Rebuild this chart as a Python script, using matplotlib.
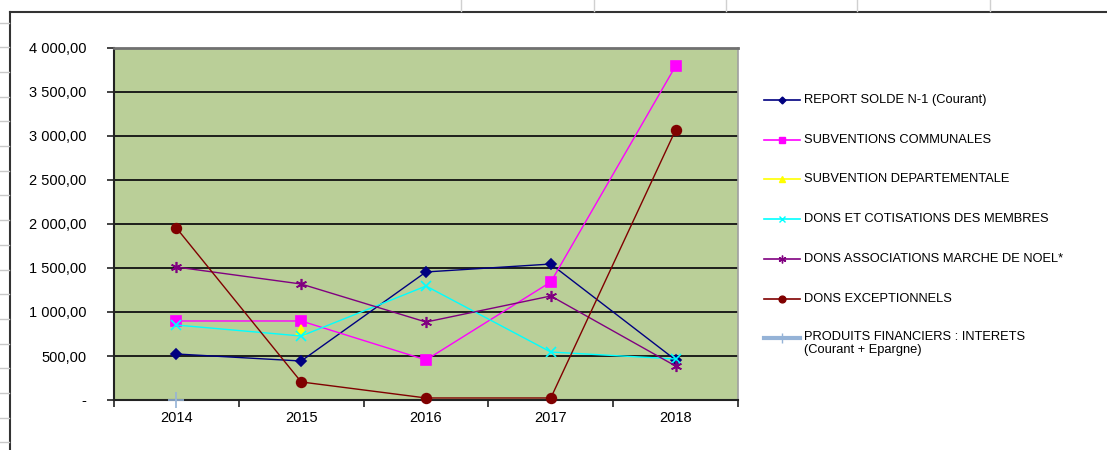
import numpy as np
import matplotlib
matplotlib.use("Agg")
import matplotlib.pyplot as plt
from matplotlib.lines import Line2D

plt.rcParams['font.family'] = ['Liberation Sans', 'DejaVu Sans']

# data
years = ['2014', '2015', '2016', '2017', '2018']
report_solde = [523, 443, 1455, 1545, 455]
subv_communales = [898, 898, 455, 1341, 3795]
subv_departementale = [np.nan, 790, np.nan, np.nan, np.nan]
dons_cotisations = [852, 727, 1295, 545, 466]
dons_noel = [1511, 1318, 886, 1182, 386]
dons_exceptionnels = [1955, 205, 23, 23, 3068]
produits_financiers = [5, np.nan, np.nan, np.nan, np.nan]

y_ticks = [0, 500, 1000, 1500, 2000, 2500, 3000, 3500, 4000]
y_labels = ['-', '500,00', '1 000,00', '1 500,00', '2 000,00',
            '2 500,00', '3 000,00', '3 500,00', '4 000,00']

series = [
    ('REPORT SOLDE N-1 (Courant)', report_solde, '#000080', 'D', 5, 1.0),
    ('SUBVENTIONS COMMUNALES', subv_communales, '#FF00FF', 's', 7, 1.0),
    ('SUBVENTION DEPARTEMENTALE', subv_departementale, '#FFFF00', '^', 7, 1.0),
    ('DONS ET COTISATIONS DES MEMBRES', dons_cotisations, '#00FFFF', 'x', 7, 1.0),
    ('DONS ASSOCIATIONS MARCHE DE NOEL*', dons_noel, '#800080', (6, 2, 0), 8, 1.0),
    ('DONS EXCEPTIONNELS', dons_exceptionnels, '#800000', 'o', 7, 1.0),
    ('PRODUITS FINANCIERS : INTERETS\n(Courant + Epargne)', produits_financiers,
     '#95B3D7', '+', 11, 3.0),
]

W, H = 1107, 450
fig = plt.figure(figsize=(W / 100, H / 100), dpi=100)
ax = fig.add_axes([114 / W, 1 - 400 / H, (738 - 114) / W, (400 - 48) / H])
ax.set_facecolor('#BACF98')

x = np.arange(len(years))
for label, vals, col, mk, ms, lw in series:
    ax.plot(x, vals, color=col, lw=1.0, marker=mk, ms=ms, mew=1.2,
            mec=col, mfc=col, clip_on=False, zorder=3)

ax.set_xlim(-0.5, len(years) - 0.5)
ax.set_ylim(0, 4000)
ax.set_yticks(y_ticks)
ax.set_yticklabels(y_labels, fontsize=10.5)
ax.set_xticks(x)
ax.set_xticklabels(years, fontsize=10.5)
ax.set_xticks(np.arange(-0.5, len(years), 1), minor=True)
ax.tick_params(axis='x', which='major', length=0, pad=8)
ax.tick_params(axis='x', which='minor', length=5, width=1.2, color='#222222')
ax.tick_params(axis='y', length=5, width=1.2, color='#222222', pad=15)
ax.grid(axis='y', color='#111111', lw=1.3)
ax.set_axisbelow(True)

for side in ['left', 'bottom']:
    ax.spines[side].set_color('#222222')
    ax.spines[side].set_linewidth(1.5)
ax.spines['top'].set_color('#707070')
ax.spines['top'].set_linewidth(2)
ax.spines['right'].set_color('#A0A0A0')
ax.spines['right'].set_linewidth(1.2)

# legend drawn by hand to match the spaced layout
for i, (label, vals, col, mk, ms, lw) in enumerate(series):
    yy = 1 - (100 + 39.7 * i) / H
    fig.add_artist(Line2D([764 / W, 800 / W], [yy, yy], color=col,
                          lw=lw if lw > 2 else 1.2))
    fig.add_artist(Line2D([782 / W], [yy], color=col, marker=mk, ms=ms * 0.7,
                          mfc=col, mec=col))
    if '\n' in label:
        fig.text(804 / W, yy + 7 / H, label, fontsize=9.3, va='top', ha='left',
                 linespacing=1.05)
    else:
        fig.text(804 / W, yy, label, fontsize=9.3, va='center', ha='left')

# spreadsheet frame behind the chart
fig.add_artist(Line2D([10 / W, 1], [1 - 12 / H, 1 - 12 / H], color='#333333', lw=1.5))
fig.add_artist(Line2D([10 / W, 10 / W], [0, 1 - 12 / H], color='#333333', lw=1.5))
for r in np.arange(22.5, H, 24.7):
    fig.add_artist(Line2D([0, 9 / W], [1 - r / H, 1 - r / H], color='#C8C8C8', lw=1))
for c in [461, 594, 726, 857, 990]:
    fig.add_artist(Line2D([c / W, c / W], [1 - 11 / H, 1], color='#D0D0D0', lw=1))

fig.savefig('out.png', dpi=100)
